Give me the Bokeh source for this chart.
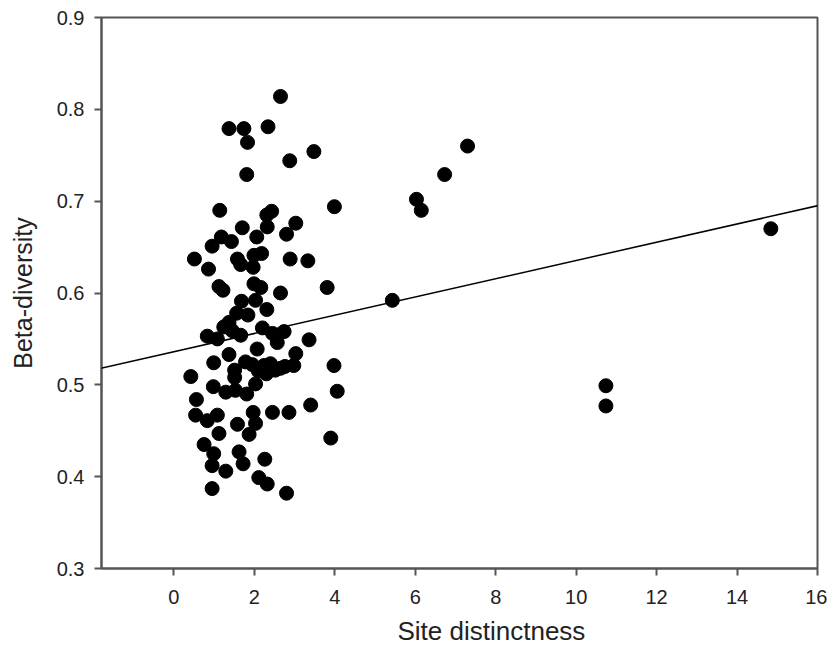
from bokeh.plotting import figure
from bokeh.models import FixedTicker, Range1d, Slope, Title
from bokeh.embed import file_html
from bokeh.resources import INLINE

# Site distinctness (x) and beta-diversity (y)
site_distinctness = [
    2.65, 1.37, 1.74, 2.34, 1.83, 3.48, 2.88, 1.81,
    1.14, 3.99, 2.43, 2.31, 3.03, 2.32, 1.70, 2.06, 2.80, 1.18, 1.43, 0.95,
    0.51, 0.86, 1.58, 1.66, 1.99, 2.18, 1.97, 2.89, 3.33,
    1.12, 1.22, 1.99, 2.16, 2.65, 3.81, 1.68, 2.03, 2.31, 1.56, 1.84,
    1.37, 1.24, 1.45, 0.83, 1.08, 1.66, 2.20, 2.45, 2.74, 2.57, 3.36, 1.37, 2.07,
    0.99, 1.78, 2.24, 2.40, 2.65, 2.98, 3.03, 3.98, 0.42, 1.51, 1.51, 2.03,
    0.98, 1.29, 1.53, 1.81, 4.06, 0.56, 3.40, 2.45, 2.86, 1.97, 0.54, 0.83,
    1.08, 1.58, 2.03,
    1.12, 1.87, 3.90, 0.75, 0.99, 1.62, 2.26, 0.95, 1.29, 1.72, 2.11, 2.32,
    0.95, 2.80,
    2.10, 2.30, 2.52, 2.76, 1.95,
    7.30, 6.73, 6.03, 6.15, 5.43, 14.84, 10.74, 10.74,
]
beta_diversity = [
    0.814, 0.779, 0.779, 0.781, 0.764, 0.754, 0.744, 0.729,
    0.690, 0.694, 0.689, 0.685, 0.676, 0.672, 0.671, 0.661, 0.664, 0.661, 0.656, 0.651,
    0.637, 0.626, 0.637, 0.631, 0.641, 0.643, 0.628, 0.637, 0.635,
    0.607, 0.603, 0.610, 0.606, 0.600, 0.606, 0.591, 0.592, 0.582, 0.578, 0.576,
    0.568, 0.563, 0.559, 0.553, 0.550, 0.554, 0.562, 0.556, 0.558, 0.546, 0.549, 0.533, 0.539,
    0.524, 0.525, 0.521, 0.523, 0.518, 0.521, 0.534, 0.521, 0.509, 0.516, 0.508, 0.501,
    0.498, 0.492, 0.494, 0.490, 0.493, 0.484, 0.478, 0.470, 0.470, 0.470, 0.467, 0.461,
    0.467, 0.457, 0.458,
    0.447, 0.446, 0.442, 0.435, 0.425, 0.427, 0.419, 0.412, 0.406, 0.414, 0.399, 0.392,
    0.387, 0.382,
    0.515, 0.512, 0.516, 0.520, 0.522,
    0.760, 0.729, 0.702, 0.690, 0.592, 0.670, 0.499, 0.477,
]

# Fitted regression line
fit_intercept = 0.536
fit_slope = 0.00994

x_ticks = [0, 2, 4, 6, 8, 10, 12, 14, 16]
y_ticks = [0.3, 0.4, 0.5, 0.6, 0.7, 0.8, 0.9]
x_title = "Site distinctness"
y_title = "Beta-diversity"

FONT = "Liberation Sans"
AXIS_COLOR = "#555555"

p = figure(
    width=827, height=656,
    x_range=Range1d(-1.8, 16), y_range=Range1d(0.3, 0.9),
    output_backend="svg", toolbar_location=None,
    min_border_left=101, min_border_right=10, min_border_top=17, min_border_bottom=88,
)
p.background_fill_color = "white"
p.border_fill_color = "white"
p.outline_line_color = AXIS_COLOR
p.outline_line_width = 2
p.xgrid.visible = False
p.ygrid.visible = False

p.add_layout(Slope(gradient=fit_slope, y_intercept=fit_intercept,
                   line_color="black", line_width=1.5))

p.scatter(site_distinctness, beta_diversity, size=14, marker="circle",
          fill_color="black", line_color="black")

for ax, ticks in ((p.xaxis, x_ticks), (p.yaxis, y_ticks)):
    ax.ticker = FixedTicker(ticks=ticks)
    ax.axis_line_color = AXIS_COLOR
    ax.axis_line_width = 2
    ax.major_tick_line_color = AXIS_COLOR
    ax.major_tick_line_width = 2
    ax.major_tick_out = 7
    ax.major_tick_in = 0
    ax.minor_tick_line_color = None
    ax.major_label_text_font = FONT
    ax.major_label_text_font_size = "20px"
    ax.major_label_text_color = "#222222"
    ax.axis_label_text_font = FONT
    ax.axis_label_text_font_size = "25px"
    ax.axis_label_text_font_style = "normal"
    ax.axis_label_text_color = "#222222"

p.yaxis.axis_label = y_title
p.xaxis.major_label_standoff = 14
p.yaxis.major_label_standoff = 10
p.yaxis.axis_label_standoff = 17

# x-axis title sits under the "8" tick in the reference, right of the frame centre
p.add_layout(Title(text=x_title, align="left", offset=296, standoff=14,
                   text_font=FONT, text_font_size="26px", text_font_style="normal",
                   text_color="#222222"), "below")

open("out.html", "w").write(file_html(p, INLINE))
